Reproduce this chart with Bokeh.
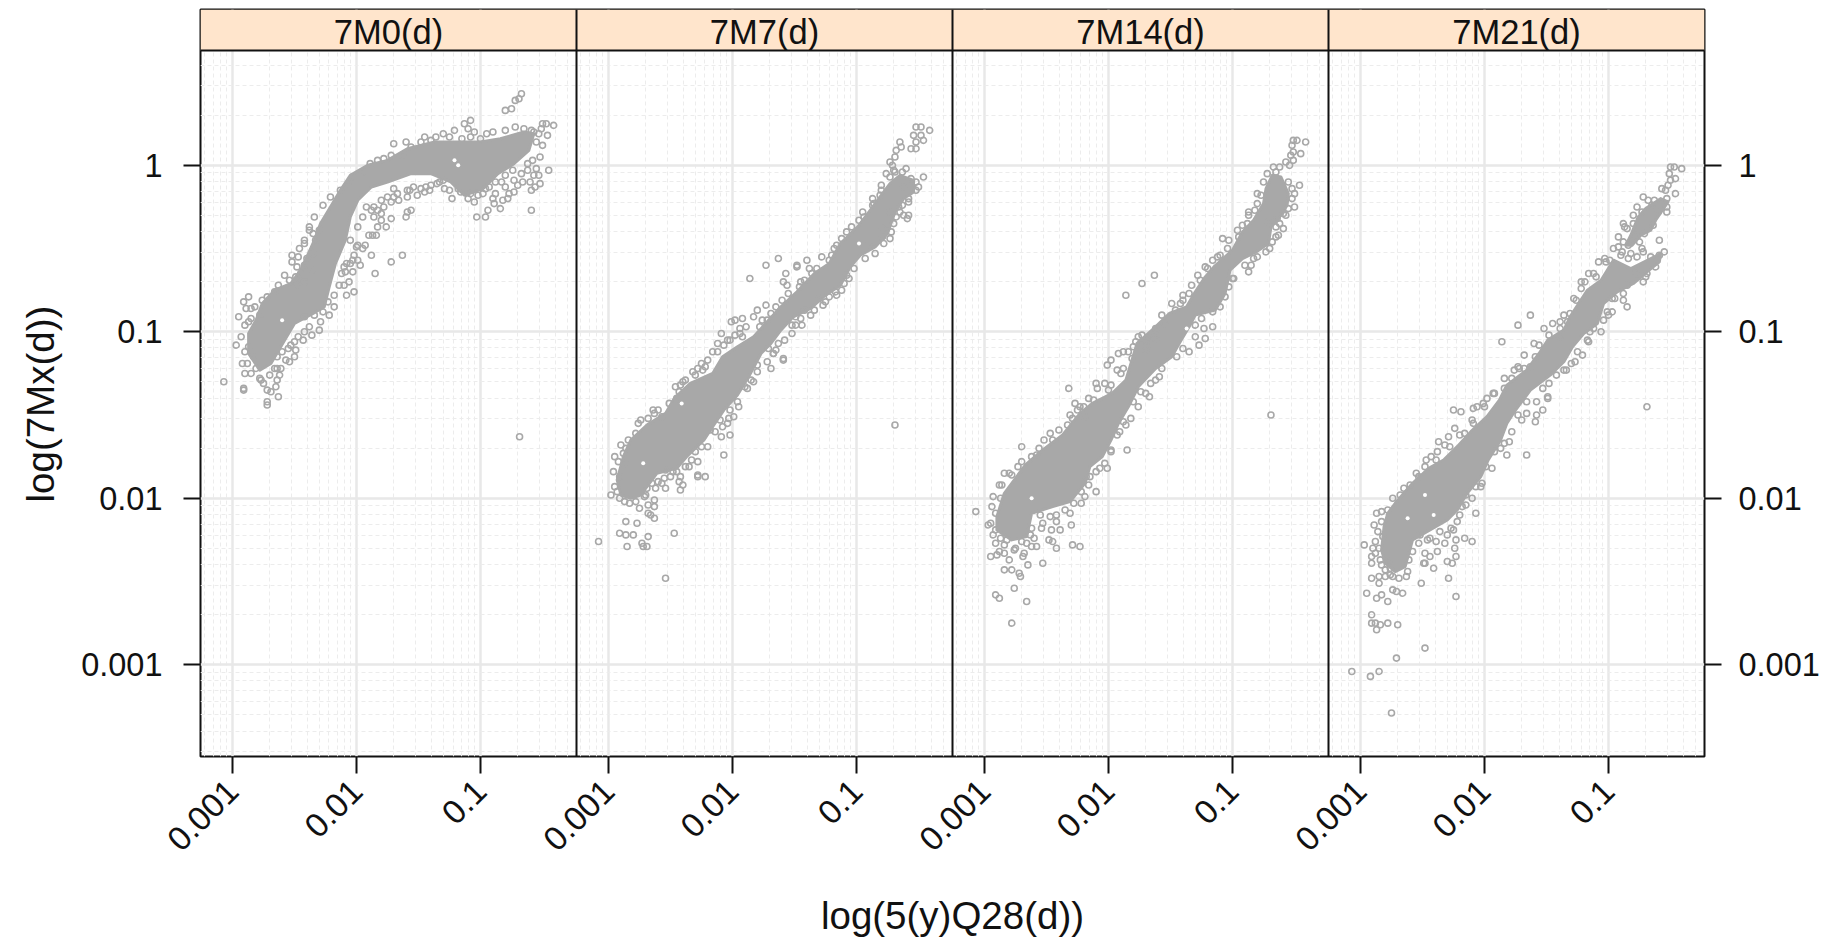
from bokeh.embed import file_html
from bokeh.resources import INLINE
from bokeh.plotting import figure
from bokeh.models import FixedTicker, LinearAxis, BoxAnnotation, Span, Label, Range1d, Title
import numpy as np

# All values are log10 of the quantity.
panel_names = ["7M0(d)", "7M7(d)", "7M14(d)", "7M21(d)"]
x_label = "log(5(y)Q28(d))"
y_label = "log(7Mx(d))"
x_tick_values = [-3, -2, -1]
x_tick_labels = ["0.001", "0.01", "0.1"]
y_tick_values = [-3, -2, -1, 0]
y_tick_labels = ["0.001", "0.01", "0.1", "1"]

# outlines of the regions where the points overlap into a solid mass
dense_7M0 = [[(-2.78,-1.23),(-2.87,-1.13),(-2.87,-1.01),(-2.81,-.93),(-2.76,-.83),(-2.66,-.75),(-2.53,-.71),(-2.45,-.63),(-2.40,-.55),(-2.34,-.45),(-2.29,-.35),(-2.21,-.25),(-2.13,-.15),(-2.05,-.06),(-1.91,.00),(-1.75,.03),(-1.59,.10),(-1.37,.14),(-1.19,.14),(-1.00,.14),(-.84,.16),(-.65,.20),(-.57,.19),(-.61,.09),(-.73,.01),(-.86,-.05),(-.98,-.14),(-1.13,-.18),(-1.24,-.10),(-1.40,-.05),(-1.56,-.05),(-1.75,-.10),(-1.88,-.13),(-1.99,-.21),(-2.05,-.31),(-2.09,-.45),(-2.17,-.59),(-2.22,-.73),(-2.26,-.85),(-2.35,-.89),(-2.50,-.95),(-2.58,-1.05),(-2.69,-1.19)]]
dense_7M7 = [[(-2.90,-1.98),(-2.93,-1.89),(-2.88,-1.75),(-2.82,-1.65),(-2.69,-1.56),(-2.54,-1.49),(-2.47,-1.40),(-2.34,-1.31),(-2.16,-1.25),(-2.08,-1.15),(-1.96,-1.09),(-1.83,-1.03),(-1.61,-.85),(-1.48,-.76),(-1.34,-.65),(-1.22,-.59),(-1.13,-.47),(-.99,-.37),(-.89,-.27),(-.81,-.19),(-.73,-.11),(-.65,-.06),(-.54,-.09),(-.54,-.16),(-.62,-.20),(-.69,-.28),(-.75,-.41),(-.85,-.49),(-.97,-.54),(-1.05,-.61),(-1.13,-.72),(-1.25,-.78),(-1.37,-.86),(-1.51,-.91),(-1.61,-.99),(-1.69,-1.07),(-1.77,-1.13),(-1.87,-1.27),(-1.96,-1.38),(-2.07,-1.47),(-2.16,-1.57),(-2.23,-1.65),(-2.37,-1.75),(-2.45,-1.82),(-2.61,-1.85),(-2.69,-1.93),(-2.74,-1.98),(-2.82,-2.00)]]
dense_7M14 = [[(-2.90,-2.19),(-2.90,-2.11),(-2.84,-1.97),(-2.75,-1.88),(-2.67,-1.80),(-2.53,-1.71),(-2.37,-1.62),(-2.23,-1.49),(-2.13,-1.43),(-1.97,-1.37),(-1.86,-1.29),(-1.77,-1.07),(-1.62,-.97),(-1.51,-.89),(-1.37,-.85),(-1.30,-.76),(-1.22,-.67),(-1.15,-.61),(-1.00,-.51),(-.92,-.40),(-.83,-.33),(-.75,-.23),(-.73,-.14),(-.68,-.06),(-.61,-.07),(-.55,-.17),(-.56,-.24),(-.61,-.30),(-.69,-.37),(-.71,-.47),(-.81,-.52),(-.92,-.56),(-1.02,-.63),(-1.06,-.77),(-1.14,-.87),(-1.30,-.90),(-1.35,-.97),(-1.43,-1.07),(-1.49,-1.15),(-1.62,-1.22),(-1.76,-1.33),(-1.84,-1.45),(-1.92,-1.55),(-1.98,-1.65),(-2.05,-1.75),(-2.15,-1.81),(-2.19,-1.91),(-2.31,-2.02),(-2.45,-2.05),(-2.62,-2.09),(-2.66,-2.23),(-2.78,-2.25)]]
dense_7M21 = [[(-2.83,-2.31),(-2.81,-2.17),(-2.78,-2.09),(-2.72,-2.03),(-2.58,-1.91),(-2.45,-1.82),(-2.33,-1.77),(-2.22,-1.69),(-2.11,-1.60),(-1.98,-1.51),(-1.88,-1.41),(-1.82,-1.32),(-1.66,-1.23),(-1.56,-1.13),(-1.49,-1.05),(-1.36,-.99),(-1.31,-.91),(-1.17,-.75),(-1.06,-.69),(-.96,-.57),(-.82,-.62),(-.63,-.55),(-.58,-.53),(-.59,-.58),(-.69,-.64),(-.80,-.71),(-.93,-.76),(-1.04,-.83),(-1.09,-.95),(-1.20,-1.01),(-1.29,-1.09),(-1.36,-1.18),(-1.47,-1.26),(-1.63,-1.35),(-1.75,-1.47),(-1.82,-1.55),(-1.87,-1.65),(-1.97,-1.77),(-2.03,-1.87),(-2.14,-1.97),(-2.22,-2.07),(-2.30,-2.13),(-2.44,-2.19),(-2.58,-2.25),(-2.64,-2.41),(-2.72,-2.44),(-2.80,-2.39)],
              [(-.86,-.48),(-.82,-.42),(-.76,-.31),(-.70,-.26),(-.58,-.20),(-.52,-.22),(-.62,-.33),(-.66,-.39),(-.74,-.42),(-.81,-.48)]]

# small gaps left open inside the solid mass
gaps_7M0 = [(-2.60,-.93),(-1.21,.03),(-1.18,.00),(-2.50,-1.10)]
gaps_7M7 = [(-2.41,-1.43),(-2.72,-1.79),(-.98,-.47)]
gaps_7M14 = [(-1.37,-.98),(-2.62,-2.00)]
gaps_7M21 = [(-2.48,-1.98),(-2.41,-2.10),(-2.62,-2.12)]

points_7M0 = [(-.67,.43),(-.69,.40),(-.72,.39),(-.75,.34),(-.80,.33),(-1.08,.27),(-1.13,.25),(-.41,.24),(-.47,.25),(-.50,.25),(-.51,.22),(-.46,.18),(-.53,.19),(-.57,.20),(-.65,.22),(-.59,.21),(-1.21,.21),(-1.30,.19),(-1.36,.17),(-1.40,.15),(-1.48,.14),(-1.56,.11),(-1.70,.13),(-1.15,.16),(-1.08,.17),(-1.00,.16),(-1.63,.06),(-1.72,.06),(-1.78,.04),(-1.83,.03),(-1.89,.01),(-1.95,-.04),(-2.03,-.07),(-.45,-.03),(-.53,-.06),(-.52,-.11),(-.59,-.15),(-.62,.01),(-.59,-.27),(-.57,-.06),(-.67,-.05),(-.73,-.09),(-.74,-.03),(-.73,-.16),(-.77,-.17),(-.80,-.13),(-.88,-.10),(-.88,-.17),(-.82,-.21),(-.78,-.20),(-.89,-.23),(-.84,-.26),(-.94,-.27),(-.96,-.31),(-1.03,-.31),(-1.23,-.20),(-1.29,-.14),(-1.33,-.10),(-1.08,-.17),(-.98,-.17),(-.96,-.14),(-1.16,-.16),(-1.41,-.15),(-1.45,-.16),(-1.51,-.18),(-1.59,-.19),(-1.59,-.15),(-1.67,-.17),(-1.70,-.14),(-1.66,-.21),(-1.72,-.22),(-1.78,-.25),(-1.83,-.27),(-1.86,-.25),(-1.80,-.33),(-1.72,-.32),(-1.76,-.37),(-1.83,-.37),(-1.56,-.27),(-1.59,-.28),(-1.60,-.31),(-1.87,-.42),(-1.90,-.42),(-1.84,-.42),(-1.93,-.48),(-1.99,-.48),(-1.95,-.50),(-2.02,-.54),(-1.88,-.54),(-1.63,-.54),(-1.72,-.58),(-1.97,-.60),(-1.99,-.57),(-2.05,-.59),(-2.10,-.61),(-2.09,-.64),(-2.03,-.64),(-1.85,-.65),(-2.06,-.70),(-2.10,-.72),(-2.02,-.76),(-2.08,-.78),(-2.18,-.78),(-2.23,-.82),(-2.27,-.88),(-2.29,-.94),(-2.34,-.90),(-2.38,-.97),(-2.42,-.91),(-2.43,-1.05),(-2.49,-1.11),(-2.50,-1.15),(-2.54,-1.18),(-2.57,-1.17),(-2.64,-1.15),(-2.53,-1.08),(-2.61,-1.22),(-2.66,-1.22),(-2.62,-1.26),(-2.64,-1.29),(-2.65,-1.33),(-2.72,-1.35),(-2.69,-1.36),(-2.63,-1.39),(-2.72,-1.44),(-2.72,-1.42),(-2.87,-.79),(-2.91,-.82),(-2.89,-.86),(-2.85,-.86),(-2.76,-.81),(-2.78,-.90),(-2.95,-.91),(-2.85,-.92),(-2.87,-.94),(-2.97,-1.08),(-2.87,-1.09),(-2.92,-1.19),(-2.88,-1.19),(-2.90,-1.25),(-2.85,-1.25),(-2.77,-1.29),(-2.91,-1.34),(-2.91,-1.35),(-3.07,-1.30),(-2.78,-1.28),(-2.81,-1.22),(-2.46,-.50),(-2.52,-.54),(-2.52,-.58),(-2.48,-.61),(-2.40,-.56),(-2.42,-.45),(-2.38,-.37),(-2.34,-.31),(-2.27,-.24),(-2.21,-.19),(-2.13,-.15),(-2.07,-.12),(-2.54,-.69),(-2.49,-.67),(-2.66,-.76),(-.685,-1.63)]
more_7M0 = [(-1.57,-.15),(-1.54,-.13),(-1.48,-.14),(-1.44,-.13),(-1.40,-.12),(-1.35,-.11),(-1.70,-.19),(-1.75,-.19),(-1.80,-.21),(-1.88,-.27),(-1.92,-.25),(-1.80,-.29),(-1.86,-.31),(-1.95,-.31),(-1.99,-.37),(-2.38,-.39),(-2.35,-.41),(-2.30,-.39),(-2.42,-.47),(-2.33,-.45),(-2.35,-.53),(-2.47,-.55),(-2.42,-.60),(-2.35,-.63),(-2.45,-.65),(-2.42,-.70),(-2.05,-.45),(-2.00,-.49),(-2.03,-.57),(-2.08,-.59),(-2.12,-.65),(-2.14,-.72),(-2.18,-.85),(-2.22,-.90),(-2.30,-.99),(-2.36,-1.02),(-2.42,-1.00),(-2.47,-1.03),(-2.50,-1.06),(-2.55,-1.10),(-2.60,-1.12),(-2.64,-1.22),(-2.70,-1.26),(-2.75,-1.31),(-2.83,-1.15),(-2.90,-1.12),(-2.93,-1.03),(-2.90,-.96),(-2.82,-.85),(-2.72,-.79),(-2.63,-.72),(-2.58,-.66),(-2.48,-.72),(-1.10,.22),(-1.05,.20),(-.95,.19),(-.90,.20),(-.80,.21),(-.72,.23),(-1.25,.17),(-1.45,.17),(-1.60,.14),(-.55,.14),(-.50,.12),(-.52,.05),(-.58,.03),(-.55,-.02),(-.62,-.03),(-.66,-.10),(-.60,-.10),(-.56,-.13),(-.70,-.12),(-.80,-.06),(-.83,-.10),(-.90,-.20),(-.93,-.13),(-1.02,-.18),(-1.05,-.22),(-1.10,-.20),(-1.18,-.14),(-1.25,-.15),(-1.30,-.09)]

points_7M7 = [(-.48,.23),(-.52,.23),(-.41,.21),(-.54,.18),(-.48,.18),(-.46,.15),(-.52,.14),(-.56,.10),(-.52,.10),(-.65,.14),(-.64,.11),(-.68,.09),(-.69,.05),(-.73,.02),(-.71,.00),(-.69,-.04),(-.63,-.04),(-.73,-.07),(-.46,-.07),(-.52,-.10),(-.52,-.15),(-.56,-.08),(-.58,-.20),(-.63,-.24),(-.80,-.15),(-.81,-.18),(-.87,-.20),(-.86,-.23),(-.73,-.28),(-.65,-.28),(-.62,-.30),(-.58,-.30),(-.59,-.32),(-.68,-.31),(-.70,-.35),(-.79,-.38),(-.73,-.44),(-.79,-.43),(-.85,-.53),(-1.04,-.37),(-.98,-.33),(-.94,-.31),(-1.12,-.44),(-1.16,-.48),(-1.20,-.54),(-1.22,-.57),(-1.32,-.62),(-1.36,-.65),(-1.40,-.57),(-1.48,-.60),(-1.48,-.61),(-1.63,-.56),(-1.73,-.60),(-1.86,-.68),(-1.57,-.65),(-1.59,-.70),(-1.56,-.72),(-1.42,-.69),(-1.46,-.73),(-1.06,-.68),(-1.10,-.71),(-1.12,-.75),(-1.16,-.78),(-1.22,-.79),(-1.25,-.82),(-1.27,-.84),(-1.37,-.90),(-1.34,-.87),(-1.60,-.81),(-1.73,-.84),(-1.80,-.87),(-1.83,-.91),(-1.76,-.93),(-1.69,-.89),(-1.92,-.92),(-1.98,-.93),(-2.01,-.94),(-1.89,-.97),(-1.94,-.98),(-2.09,-1.01),(-1.94,-1.01),(-1.98,-1.02),(-1.44,-.96),(-1.49,-.96),(-1.52,-.96),(-1.52,-1.01),(-1.49,-.91),(-1.63,-1.07),(-1.67,-1.13),(-1.59,-1.16),(-1.71,-1.10),(-2.04,-1.05),(-2.12,-1.07),(-2.07,-1.08),(-2.16,-1.12),(-2.20,-1.17),(-2.25,-1.19),(-2.32,-1.24),(-2.24,-1.23),(-2.38,-1.29),(-2.42,-1.32),(-2.43,-1.36),(-2.45,-1.40),(-1.59,-1.17),(-1.69,-1.22),(-1.67,-1.13),(-1.80,-1.24),(-1.85,-1.29),(-1.88,-1.34),(-1.96,-1.42),(-1.99,-1.51),(-2.02,-1.47),(-2.04,-1.55),(-2.08,-1.57),(-2.02,-1.62),(-2.09,-1.63),(-2.18,-1.59),(-2.25,-1.69),(-2.07,-1.74),(-2.28,-1.78),(-2.33,-1.77),(-2.38,-1.81),(-2.22,-1.87),(-2.28,-1.87),(-2.28,-1.86),(-2.45,-1.84),(-2.50,-1.87),(-2.54,-1.83),(-2.43,-1.90),(-2.40,-1.92),(-2.42,-1.95),(-2.54,-1.94),(-2.57,-1.91),(-2.62,-1.94),(-2.65,-1.91),(-2.69,-1.94),(-2.71,-1.99),(-2.63,-2.01),(-2.63,-2.05),(-2.68,-2.04),(-2.75,-2.06),(-2.83,-2.03),(-2.91,-2.00),(-2.98,-1.98),(-2.93,-1.96),(-2.68,-2.09),(-2.63,-2.12),(-2.66,-2.10),(-2.86,-2.14),(-2.77,-2.15),(-2.91,-2.21),(-2.86,-2.22),(-2.80,-2.22),(-2.68,-2.23),(-2.47,-2.21),(-3.08,-2.26),(-2.85,-2.29),(-2.73,-2.27),(-2.72,-2.29),(-2.69,-2.29),(-2.54,-2.48),(-.69,-1.56),(-2.95,-1.75),(-2.84,-1.65),(-2.86,-1.70),(-2.88,-1.73),(-2.87,-1.79),(-2.91,-1.87),(-2.74,-1.53),(-2.64,-1.47),(-2.63,-1.49),(-2.78,-1.61),(-2.57,-1.51),(-2.51,-1.43)]
more_7M7 = [(-2.30,-1.26),(-2.22,-1.21),(-2.12,-1.12),(-2.02,-1.05),(-1.92,-1.03),(-1.78,-.97),(-1.72,-.93),(-1.65,-.85),(-1.55,-.77),(-1.45,-.70),(-1.38,-.62),(-1.28,-.55),(-1.18,-.50),(-1.08,-.40),(-.95,-.28),(-.87,-.24),(-.80,-.12),(-.76,-.05),(-.70,-.03),(-.60,-.02),(-.62,-.13),(-.50,-.13),(-.58,-.22),(-.66,-.25),(-.72,-.40),(-.78,-.47),(-.90,-.47),(-.93,-.56),(-1.02,-.62),(-1.08,-.66),(-1.17,-.76),(-1.30,-.80),(-1.42,-.87),(-1.45,-.92),(-1.58,-1.05),(-1.65,-1.11),(-1.72,-1.18),(-1.80,-1.20),(-1.83,-1.30),(-1.90,-1.33),(-1.95,-1.45),(-2.03,-1.52),(-2.10,-1.53),(-2.14,-1.60),(-2.20,-1.69),(-2.30,-1.72),(-2.35,-1.81),(-2.42,-1.87),(-2.48,-1.84),(-2.55,-1.88),(-2.60,-1.90),(-2.70,-1.98),(-2.78,-2.02),(-2.87,-2.02),(-2.95,-1.93),(-2.96,-1.84),(-2.92,-1.78),(-2.90,-1.68),(-2.76,-1.55),(-2.68,-1.52),(-2.60,-1.47),(-2.46,-1.33),(-2.40,-1.30),(-2.28,-1.22)]

points_7M14 = [(-.48,.15),(-.51,.15),(-.41,.14),(-.52,.12),(-.45,.07),(-.51,.08),(-.53,.06),(-.57,.02),(-.54,.00),(-.51,.03),(-.65,-.04),(-.72,-.05),(-.46,-.12),(-.52,-.14),(-.52,-.20),(-.80,-.17),(-.80,-.23),(-.55,-.26),(-.59,-.29),(-.64,-.32),(-.71,-.34),(-.87,-.28),(-.87,-.30),(-.65,-.37),(-.59,-.38),(-.63,-.42),(-.68,-.46),(-.73,-.52),(-.83,-.56),(-.85,-.60),(-.87,-.64),(-.96,-.39),(-.92,-.36),(-1.08,-.44),(-1.03,-.45),(-.99,-.68),(-1.10,-.54),(-1.16,-.57),(-1.22,-.61),(-1.06,-.79),(-1.16,-.88),(-1.16,-.97),(-1.23,-.98),(-1.22,-1.04),(-1.30,-1.03),(-1.27,-1.08),(-1.35,-1.12),(-1.26,-.69),(-1.35,-.77),(-1.40,-.78),(-1.42,-.83),(-1.49,-.83),(-1.57,-.90),(-1.63,-.66),(-1.73,-.71),(-1.86,-.78),(-1.62,-.98),(-1.73,-1.02),(-1.76,-1.03),(-1.69,-1.04),(-1.62,-1.04),(-1.78,-1.06),(-1.80,-1.09),(-1.69,-1.09),(-1.70,-1.11),(-1.84,-1.12),(-1.88,-1.12),(-1.92,-1.13),(-1.98,-1.17),(-2.01,-1.20),(-1.88,-1.22),(-1.93,-1.23),(-2.32,-1.34),(-2.10,-1.31),(-2.09,-1.34),(-2.03,-1.31),(-1.98,-1.32),(-2.27,-1.43),(-2.23,-1.45),(-2.20,-1.45),(-2.12,-1.41),(-2.31,-1.50),(-2.29,-1.52),(-2.19,-1.51),(-2.47,-1.61),(-2.40,-1.59),(-2.52,-1.65),(-2.70,-1.69),(-2.58,-1.74),(-2.73,-1.81),(-2.84,-1.85),(-2.80,-1.85),(-2.86,-1.92),(-2.93,-1.99),(-2.87,-2.00),(-3.07,-2.08),(-2.91,-2.09),(-2.97,-2.16),(-2.91,-2.19),(-2.91,-2.27),(-2.84,-2.28),(-2.95,-2.35),(-2.90,-2.34),(-2.88,-2.32),(-2.84,-2.33),(-2.80,-2.37),(-2.76,-2.31),(-2.69,-2.35),(-2.68,-2.33),(-2.65,-2.40),(-2.53,-2.39),(-2.84,-2.43),(-2.78,-2.43),(-2.72,-2.45),(-2.71,-2.47),(-2.76,-2.54),(-2.91,-2.58),(-2.88,-2.60),(-2.66,-2.62),(-2.78,-2.75),(-.69,-1.50),(-1.85,-1.71),(-2.01,-1.82),(-2.07,-1.82),(-1.98,-1.71),(-1.91,-1.60),(-1.86,-1.56),(-1.82,-1.52),(-1.76,-1.45),(-1.67,-1.39),(-1.70,-1.37),(-1.66,-1.31),(-1.59,-1.27),(-2.10,-1.96),(-2.16,-1.92),(-2.18,-1.87),(-2.19,-1.99),(-2.22,-2.03),(-2.31,-2.09),(-2.30,-2.16),(-2.39,-2.19),(-2.42,-2.14),(-2.47,-2.11),(-2.53,-2.15),(-2.54,-2.18),(-2.46,-2.19),(-2.48,-2.25),(-2.45,-2.26),(-2.42,-2.30),(-2.29,-2.28),(-2.23,-2.29),(-2.58,-2.29),(-2.62,-2.29),(-2.66,-2.27),(-2.63,-2.22)]
more_7M14 = [(-2.82,-2.25),(-2.87,-2.24),(-2.75,-2.30),(-2.70,-2.26),(-2.62,-2.18),(-2.60,-2.24),(-2.55,-2.10),(-2.42,-2.10),(-2.35,-2.07),(-2.28,-2.03),(-2.22,-1.96),(-2.15,-1.87),(-2.10,-1.84),(-2.03,-1.79),(-1.98,-1.72),(-1.93,-1.62),(-1.88,-1.54),(-1.80,-1.42),(-1.74,-1.36),(-1.62,-1.29),(-1.57,-1.22),(-1.45,-1.15),(-1.40,-1.10),(-1.30,-.96),(-1.25,-.92),(-1.10,-.85),(-1.03,-.73),(-1.00,-.68),(-.90,-.60),(-.80,-.55),(-.70,-.50),(-.65,-.43),(-.62,-.35),(-.57,-.30),(-.50,-.25),(-.50,-.17),(-.55,-.10),(-.62,-.01),(-.67,-.01),(-.75,-.10),(-.77,-.18),(-.82,-.27),(-.88,-.35),(-.95,-.43),(-1.04,-.50),(-1.12,-.55),(-1.20,-.62),(-1.28,-.66),(-1.33,-.72),(-1.40,-.81),(-1.46,-.87),(-1.55,-.95),(-1.62,-1.02),(-1.70,-1.07),(-1.81,-1.16),(-1.90,-1.25),(-2.00,-1.35),(-2.16,-1.40),(-2.25,-1.47),(-2.33,-1.56),(-2.45,-1.65),(-2.56,-1.70),(-2.62,-1.75),(-2.70,-1.78),(-2.78,-1.86),(-2.88,-1.92),(-2.94,-2.05),(-2.95,-2.15),(-2.93,-2.22)]

points_7M21 = [(-.47,-.01),(-.50,-.01),(-.41,-.02),(-.51,-.05),(-.46,-.08),(-.50,-.09),(-.52,-.12),(-.54,-.15),(-.57,-.14),(-.46,-.17),(-.72,-.19),(-.68,-.21),(-.63,-.21),(-.53,-.20),(-.53,-.25),(-.73,-.28),(-.80,-.30),(-.80,-.35),(-.88,-.35),(-.87,-.37),(-.64,-.36),(-.71,-.41),(-.59,-.45),(-.92,-.43),(-.88,-.46),(-.84,-.48),(-.78,-.42),(-.55,-.52),(-.59,-.54),(-.62,-.61),(-.66,-.55),(-.73,-.50),(-.82,-.53),(-.77,-.55),(-.96,-.50),(-.92,-.49),(-.89,-.52),(-1.03,-.56),(-.99,-.57),(-1.08,-.58),(-.69,-.65),(-.70,-.67),(-1.16,-.65),(-1.10,-.67),(-1.19,-.70),(-1.22,-.74),(-1.26,-.81),(-.95,-.80),(-.88,-.77),(-.88,-.81),(-.85,-.85),(-.97,-.88),(-1.01,-.88),(-1.04,-.93),(-1.06,-1.00),(-1.15,-1.00),(-1.31,-.89),(-1.39,-.94),(-1.39,-.98),(-1.33,-.94),(-1.16,-1.06),(-1.21,-1.14),(-1.27,-1.18),(-1.36,-1.23),(-1.34,-1.23),(-1.48,-1.31),(-1.49,-1.39),(-1.63,-.90),(-1.73,-.96),(-1.86,-1.06),(-1.48,-1.02),(-1.56,-1.08),(-1.59,-1.15),(-1.39,-1.03),(-1.73,-1.21),(-1.76,-1.23),(-1.68,-1.22),(-1.63,-1.21),(-1.78,-1.28),(-1.84,-1.34),(-1.93,-1.37),(-1.98,-1.40),(-2.25,-1.47),(-2.19,-1.48),(-2.09,-1.46),(-2.06,-1.45),(-2.01,-1.43),(-1.59,-1.54),(-1.58,-1.50),(-1.53,-1.47),(-1.49,-1.40),(-1.70,-1.53),(-1.66,-1.49),(-2.24,-1.58),(-2.09,-1.55),(-2.16,-1.61),(-2.37,-1.66),(-2.29,-1.63),(-2.32,-1.68),(-1.66,-1.74),(-1.82,-1.74),(-1.80,-1.66),(-1.87,-1.70),(-2.43,-1.75),(-2.39,-1.77),(-2.48,-1.81),(-2.53,-1.87),(-2.60,-1.92),(-2.68,-1.98),(-2.78,-2.07),(-2.87,-2.09),(-2.89,-2.16),(-2.83,-2.14),(-2.02,-1.91),(-2.07,-1.93),(-1.99,-1.81),(-2.15,-1.98),(-2.15,-2.04),(-2.07,-2.09),(-2.22,-2.14),(-2.25,-2.19),(-2.30,-2.22),(-2.23,-2.25),(-2.16,-2.24),(-2.10,-2.26),(-2.32,-2.27),(-2.24,-2.30),(-2.38,-2.32),(-2.23,-2.35),(-2.44,-2.35),(-2.48,-2.33),(-2.26,-2.39),(-2.30,-2.38),(-2.48,-2.39),(-2.49,-2.39),(-2.41,-2.42),(-2.29,-2.48),(-2.51,-2.51),(-2.23,-2.59),(-2.39,-2.26),(-2.46,-2.25),(-2.53,-2.27),(-2.61,-2.37),(-2.63,-2.47),(-2.69,-2.48),(-2.74,-2.47),(-2.80,-2.47),(-2.91,-2.48),(-2.85,-2.47),(-2.85,-2.51),(-2.91,-2.39),(-2.91,-2.35),(-2.90,-2.30),(-2.97,-2.28),(-2.88,-2.26),(-2.82,-2.23),(-2.84,-2.37),(-2.77,-2.38),(-2.80,-2.43),(-2.74,-2.55),(-2.71,-2.56),(-2.66,-2.57),(-2.95,-2.57),(-2.87,-2.60),(-2.83,-2.58),(-2.78,-2.62),(-2.91,-2.70),(-2.91,-2.75),(-2.88,-2.75),(-2.84,-2.76),(-2.78,-2.75),(-2.87,-2.79),(-2.70,-2.76),(-2.48,-2.90),(-2.71,-2.96),(-3.07,-3.04),(-2.92,-3.07),(-2.85,-3.04),(-2.75,-3.29),(-.69,-1.45)]
more_7M21 = [(-2.85,-2.30),(-2.88,-2.33),(-2.83,-2.40),(-2.76,-2.42),(-2.86,-2.20),(-2.83,-2.08),(-2.74,-2.00),(-2.65,-1.94),(-2.55,-1.85),(-2.47,-1.77),(-2.38,-1.72),(-2.28,-1.69),(-2.20,-1.62),(-2.10,-1.53),(-2.00,-1.45),(-1.92,-1.37),(-1.84,-1.28),(-1.72,-1.22),(-1.68,-1.14),(-1.60,-1.07),(-1.52,-.98),(-1.45,-.95),(-1.36,-.90),(-1.28,-.80),(-1.22,-.70),(-1.12,-.65),(-1.02,-.58),(-.90,-.54),(-.84,-.56),(-.72,-.52),(-.78,-.65),(-.72,-.70),(-.85,-.72),(-.97,-.80),(-1.00,-.90),(-1.12,-.98),(-1.17,-1.05),(-1.25,-1.12),(-1.30,-1.19),(-1.42,-1.26),(-1.53,-1.34),(-1.58,-1.42),(-1.66,-1.42),(-1.73,-1.50),(-1.78,-1.60),(-1.84,-1.67),(-1.92,-1.72),(-1.94,-1.82),(-2.03,-1.93),(-2.10,-2.00),(-2.18,-2.05),(-2.20,-2.10),(-2.27,-2.18),(-2.36,-2.20),(-2.44,-2.24),(-2.52,-2.22),(-2.58,-2.32),(-2.62,-2.44),(-2.76,-2.46),(-.77,-.25),(-.65,-.24),(-.60,-.28),(-.53,-.28),(-.85,-.38),(-.75,-.46)]

all_points = [points_7M0 + more_7M0, points_7M7 + more_7M7, points_7M14 + more_7M14, points_7M21 + more_7M21]
all_dense = [dense_7M0, dense_7M7, dense_7M14, dense_7M21]
all_gaps = [gaps_7M0, gaps_7M7, gaps_7M14, gaps_7M21]

PANEL_START = -3.258
PANEL_END = -0.226
Y_START, Y_END = -3.551, 0.936
STRIP_BOTTOM = 0.69
SPAN = PANEL_END - PANEL_START
N = len(panel_names)

GREY = "#A8A8A8"
FONT = "Liberation Sans"
INK = "#111111"

p = figure(width=1828, height=940,
           x_range=Range1d(PANEL_START, PANEL_START + N * SPAN),
           y_range=Range1d(Y_START, Y_END),
           min_border_left=200, min_border_right=124,
           min_border_top=9, min_border_bottom=183,
           output_backend="svg", toolbar_location=None,
           y_axis_location=None)
p.background_fill_color = "white"
p.border_fill_color = "white"
p.outline_line_color = INK
p.outline_line_width = 2

# each panel repeats the same x scale, one panel width further along
x_ticks, x_labels, x_minor = [], [], []
minor_x = [float(np.log10(m * 10.0**k)) for k in (-4, -3, -2, -1) for m in range(2, 10)]
minor_x = [v for v in minor_x if PANEL_START < v < PANEL_END]
for k in range(N):
    for v, lab in zip(x_tick_values, x_tick_labels):
        x_ticks.append(v + k * SPAN)
        x_labels.append(lab)
    x_minor += [v + k * SPAN for v in minor_x]
minor_y = [float(np.log10(m * 10.0**k)) for k in (-4, -3, -2, -1, 0) for m in range(2, 10)]
minor_y = [v for v in minor_y if Y_START < v < STRIP_BOTTOM]

def style_axis(ax, ticks, labels, standoff, size):
    ax.ticker = FixedTicker(ticks=ticks)
    ax.major_label_overrides = dict(zip(ticks, labels))
    ax.major_label_text_font = FONT
    ax.major_label_text_font_size = size
    ax.major_label_text_color = INK
    ax.major_tick_out = 17
    ax.major_tick_in = 0
    ax.major_tick_line_color = INK
    ax.major_tick_line_width = 2
    ax.minor_tick_line_color = None
    ax.axis_line_color = None
    ax.major_label_standoff = standoff
    ax.axis_label_text_font = FONT
    ax.axis_label_text_font_size = "38.5px"
    ax.axis_label_text_font_style = "normal"
    ax.axis_label_text_color = INK

xa = p.xaxis[0]
style_axis(xa, x_ticks, x_labels, 12, "33.5px")
xa.major_label_orientation = np.pi / 4
xa.axis_label = x_label
xa.axis_label_standoff = 30

left = LinearAxis()
style_axis(left, y_tick_values, y_tick_labels, 21, "32.5px")
p.add_layout(left, "left")

right = LinearAxis()
style_axis(right, y_tick_values, y_tick_labels, 17, "32.5px")
p.add_layout(right, "right")

# the y label is centred on the panels, below the strips
p.add_layout(Title(text=y_label, align="left", offset=254, standoff=33, text_font=FONT,
                   text_font_size="38.5px", text_font_style="normal", text_color=INK), "left")

p.xgrid[0].ticker = FixedTicker(ticks=x_ticks, minor_ticks=x_minor)
p.ygrid[0].ticker = FixedTicker(ticks=y_tick_values, minor_ticks=minor_y)
for g in (p.xgrid[0], p.ygrid[0]):
    g.grid_line_color = "#E8E8E8"
    g.grid_line_width = 2.5
    g.minor_grid_line_color = "#ECECEC"
    g.minor_grid_line_width = 1
    g.minor_grid_line_dash = "4 3"

for i, name in enumerate(panel_names):
    rng = f"panel{i}"
    p.extra_x_ranges[rng] = Range1d(PANEL_START - i * SPAN, PANEL_START + (N - i) * SPAN)
    for outline in all_dense[i]:
        p.patch([v[0] for v in outline], [v[1] for v in outline], x_range_name=rng,
                fill_color=GREY, line_color=GREY, line_width=3, line_join="round")
    gaps = all_gaps[i]
    p.scatter([v[0] for v in gaps], [v[1] for v in gaps], x_range_name=rng, marker="circle",
              size=4, fill_color="white", line_color=None)
    pts = all_points[i]
    p.scatter([v[0] for v in pts], [v[1] for v in pts], x_range_name=rng, marker="circle",
              size=6, fill_color=None, line_color=GREY, line_width=1.6)

p.add_layout(BoxAnnotation(bottom=STRIP_BOTTOM, fill_color="#FFE5CC", fill_alpha=1, line_color=None))
p.add_layout(Span(location=STRIP_BOTTOM, dimension="width", line_color=INK, line_width=2))
for i, name in enumerate(panel_names):
    if i > 0:
        p.add_layout(Span(location=PANEL_START + i * SPAN, dimension="height", line_color=INK, line_width=2))
    p.add_layout(Label(x=(PANEL_START + PANEL_END) / 2 + i * SPAN, y=(STRIP_BOTTOM + Y_END) / 2 - 0.014, text=name,
                       text_align="center", text_baseline="middle",
                       text_font=FONT, text_font_size="34.5px", text_color=INK))

open("out.html", "w").write(file_html(p, INLINE))
